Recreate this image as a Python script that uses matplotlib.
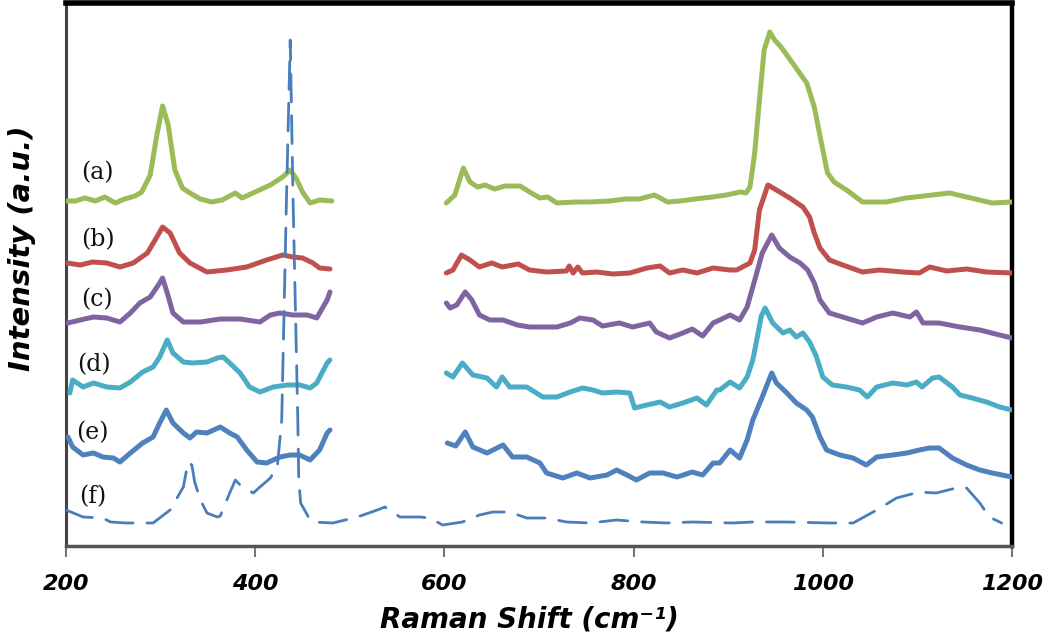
import matplotlib
matplotlib.use("Agg")
import matplotlib.pyplot as plt

# ── Data (wavenumber in cm-1, stacked intensity in a.u.) ─────────────────────

# (a) green
a_shift_lo = [200, 210, 220, 231, 241, 252, 262, 273, 280, 289, 296, 302, 308, 315, 323, 331,
              342, 354, 365, 373, 379, 386, 400, 416, 429, 437, 443, 450, 458, 468, 481]
a_int_lo = [345, 345, 348, 345, 349, 343, 347, 350, 354, 371, 411, 440, 421, 376, 358, 353,
            347, 344, 346, 350, 353, 348, 354, 361, 369, 376, 368, 354, 343, 346, 345]
a_shift_hi = [602, 611, 620, 627, 635, 643, 653, 664, 680, 690, 701, 709, 719, 738, 754, 775,
              791, 806, 822, 836, 849, 865, 883, 898, 913, 919, 923, 928, 933, 938, 944, 949,
              955, 968, 983, 991, 1000, 1005, 1012, 1025, 1042, 1067, 1088, 1116, 1134, 1152,
              1179, 1200]
a_int_hi = [343, 351, 378, 364, 359, 361, 357, 360, 360, 354, 348, 349, 343, 344, 344, 345,
            347, 347, 351, 344, 345, 347, 349, 351, 354, 353, 359, 393, 446, 496, 514, 506,
            500, 483, 463, 439, 396, 373, 364, 356, 344, 344, 348, 351, 353, 349,
            343, 344]

# (b) red
b_shift_lo = [201, 215, 228, 243, 257, 271, 286, 296, 302, 310, 320, 331, 349, 370, 391, 412,
              429, 440, 450, 461, 468, 479]
b_int_lo = [283, 281, 284, 283, 279, 283, 293, 309, 319, 313, 293, 283, 274, 276, 279, 286,
            291, 289, 288, 283, 278, 277]
b_shift_hi = [602, 609, 618, 627, 637, 650, 661, 678, 690, 708, 729, 732, 736, 741, 746, 761,
              778, 796, 814, 828, 838, 852, 867, 884, 902, 909, 923, 928, 933, 942, 951, 965,
              979, 986, 991, 997, 1007, 1021, 1042, 1060, 1084, 1102, 1113, 1131, 1152, 1173,
              1200]
b_int_hi = [273, 276, 291, 286, 279, 283, 279, 282, 276, 274, 275, 280, 273, 279, 273, 274,
            272, 273, 278, 280, 273, 276, 273, 278, 276, 276, 283, 296, 336, 361, 356, 348,
            339, 329, 313, 298, 286, 281, 274, 276, 274, 273, 279, 275, 277, 274,
            273]

# (c) purple
c_shift_lo = [202, 215, 229, 243, 257, 268, 278, 289, 299, 302, 307, 313, 324, 342, 363, 384,
              405, 416, 426, 440, 455, 465, 476, 479]
c_int_lo = [223, 226, 229, 228, 224, 233, 243, 249, 263, 268, 253, 233, 224, 224, 227, 227,
            224, 231, 233, 231, 231, 228, 246, 254]
c_shift_hi = [602, 606, 613, 622, 629, 637, 648, 662, 677, 690, 704, 719, 733, 743, 757, 767,
              785, 799, 817, 824, 838, 852, 862, 873, 884, 891, 902, 912, 920, 926, 936, 946,
              954, 965, 976, 984, 991, 997, 1007, 1021, 1042, 1057, 1074, 1092, 1099, 1106,
              1123, 1145, 1166, 1187, 1200]
c_int_hi = [243, 238, 241, 254, 246, 231, 226, 226, 221, 219, 219, 219, 223, 228, 226, 220,
            223, 219, 223, 214, 208, 213, 217, 210, 223, 226, 231, 226, 239, 259, 293, 311,
            298, 289, 283, 276, 263, 246, 233, 229, 223, 229, 233, 229, 234, 223,
            223, 219, 216, 211, 208]

# (d) cyan
d_shift_lo = [204, 207, 218, 229, 243, 257, 268, 281, 292, 299, 307, 313, 324, 334, 349, 360,
              366, 373, 384, 394, 405, 419, 434, 447, 458, 465, 476, 479]
d_int_lo = [153, 166, 159, 163, 159, 158, 164, 174, 179, 189, 206, 193, 184, 183, 184, 188,
            189, 183, 173, 159, 154, 159, 161, 161, 158, 163, 183, 186]
d_shift_hi = [602, 609, 619, 630, 645, 655, 661, 669, 687, 704, 719, 733, 746, 757, 767, 782,
              796, 801, 814, 828, 838, 852, 867, 877, 888, 891, 902, 912, 920, 926, 931, 935,
              939, 947, 958, 965, 972, 979, 986, 993, 1000, 1010, 1025, 1039, 1047, 1057,
              1074, 1089, 1099, 1105, 1116, 1123, 1137, 1145, 1158, 1173, 1187, 1200]
d_int_hi = [173, 169, 183, 171, 168, 159, 169, 159, 159, 149, 149, 154, 158, 156, 153, 154,
            153, 138, 141, 144, 139, 143, 148, 141, 156, 156, 164, 158, 169, 186, 210, 230,
            238, 223, 213, 216, 209, 213, 204, 190, 169, 161, 159, 156, 149, 159,
            163, 161, 164, 159, 168, 169, 159, 151, 148, 144, 139, 136]

# (e) blue
e_shift_lo = [202, 207, 218, 229, 239, 250, 257, 268, 281, 292, 299, 306, 313, 324, 331, 338,
              349, 363, 373, 381, 391, 402, 412, 426, 437, 447, 458, 468, 476, 479]
e_int_lo = [109, 99, 91, 93, 89, 88, 84, 93, 103, 109, 123, 136, 123, 113, 108, 114,
            113, 119, 113, 109, 96, 84, 83, 89, 91, 91, 86, 96, 113, 116]
e_shift_hi = [603, 612, 622, 630, 645, 662, 672, 687, 701, 708, 725, 740, 754, 772, 782, 793,
              803, 817, 831, 846, 862, 873, 884, 891, 902, 912, 920, 926, 936, 946, 951, 962,
              972, 983, 989, 997, 1004, 1018, 1032, 1046, 1057, 1074, 1089, 1102, 1113, 1123,
              1137, 1152, 1166, 1179, 1200]
e_int_hi = [103, 100, 114, 99, 93, 101, 89, 89, 83, 73, 68, 73, 68, 71, 76, 71,
            66, 73, 73, 69, 74, 71, 83, 83, 96, 88, 106, 126, 149, 173, 163, 153,
            143, 136, 129, 109, 96, 91, 88, 81, 89, 91, 93, 96, 98, 98,
            88, 81, 76, 73, 69]

# (f) dashed reference
f_shift = [200, 218, 239, 247, 264, 292, 310, 324, 329, 333, 336, 342, 349, 360, 363, 373,
           379, 384, 398, 405, 416, 419, 423, 428, 433, 437, 440, 445, 446, 448, 458, 461,
           482, 508, 529, 537, 553, 574, 585, 598, 619, 637, 651, 669, 687, 708, 729, 754,
           782, 810, 835, 862, 905, 926, 962, 1007, 1032, 1057, 1078, 1102, 1120, 1145, 1152,
           1166, 1176, 1189]
f_int = [36, 29, 28, 24, 23, 23, 36, 59, 84, 81, 64, 46, 33, 29, 30, 53,
         66, 61, 53, 59, 68, 73, 76, 126, 346, 506, 346, 126, 66, 43, 26, 24,
         23, 29, 36, 39, 29, 29, 28, 21, 24, 31, 34, 34, 28, 28, 24, 23,
         26, 24, 23, 24, 23, 24, 24, 23, 23, 36, 48, 54, 53, 59, 58,
         43, 29, 23]

curve_labels = ["(a)", "(b)", "(c)", "(d)", "(e)", "(f)"]
label_x = [233, 234, 233, 229, 228, 228]
label_y = [373, 306, 246, 181, 113, 49]

x_ticks = [200, 400, 600, 800, 1000, 1200]

# ── Style ────────────────────────────────────────────────────────────────────

GREEN = "#9BBB59"
RED = "#C0504D"
PURPLE = "#8064A2"
CYAN = "#4BACC6"
BLUE = "#4F81BD"

fig = plt.figure(figsize=(10.5, 6.36), dpi=100)
ax = fig.add_axes([0.0629, 0.1415, 0.9009, 0.8538])

solid = dict(lw=3.6, solid_capstyle="round", solid_joinstyle="round")
series = [
    (a_shift_lo, a_int_lo, a_shift_hi, a_int_hi, GREEN),
    (b_shift_lo, b_int_lo, b_shift_hi, b_int_hi, RED),
    (c_shift_lo, c_int_lo, c_shift_hi, c_int_hi, PURPLE),
    (d_shift_lo, d_int_lo, d_shift_hi, d_int_hi, CYAN),
    (e_shift_lo, e_int_lo, e_shift_hi, e_int_hi, BLUE),
]
for x_lo, y_lo, x_hi, y_hi, col in series:
    ax.plot(x_lo, y_lo, color=col, zorder=3, **solid)
    ax.plot(x_hi, y_hi, color=col, zorder=3, **solid)

ax.plot(f_shift, f_int, color="#4A7EBB", lw=2.0, linestyle=(0, (10, 5)),
        dash_capstyle="round", zorder=4)

for txt, lx, ly in zip(curve_labels, label_x, label_y):
    ax.text(lx, ly, txt, ha="center", va="center", fontsize=17,
            family="DejaVu Serif", color="#111111", zorder=5)

ax.set_xlim(200, 1200)
ax.set_ylim(0, 543)
ax.set_xticks(x_ticks)
ax.set_xticklabels([str(t) for t in x_ticks], fontsize=16, fontweight="bold",
                   fontstyle="italic")
ax.set_yticks([])
ax.tick_params(axis="x", direction="out", length=8, width=1.5, color="#777777", pad=12)

ax.set_xlabel("Raman Shift (cm⁻¹)", fontsize=20, fontweight="bold",
              fontstyle="italic", va="center")
ax.xaxis.set_label_coords(0.49, -0.136)
ax.set_ylabel("Intensity (a.u.)", fontsize=21, fontweight="bold",
              fontstyle="italic", va="center")
ax.yaxis.set_label_coords(-0.0465, 0.549)

ax.spines["top"].set_color("black")
ax.spines["top"].set_linewidth(4)
ax.spines["right"].set_color("black")
ax.spines["right"].set_linewidth(3.2)
ax.spines["left"].set_color("#444444")
ax.spines["left"].set_linewidth(2.2)
ax.spines["bottom"].set_color("#555555")
ax.spines["bottom"].set_linewidth(2.5)

fig.savefig("out.png", dpi=100)
